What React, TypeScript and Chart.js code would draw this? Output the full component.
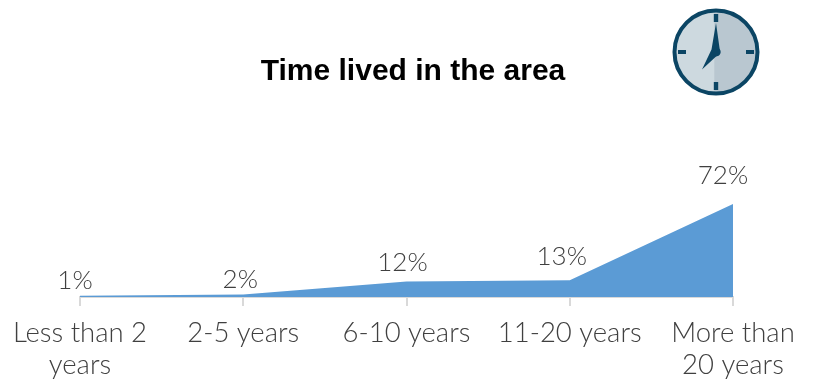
import React, { useEffect, useRef } from "react";
import { Chart, registerables, Plugin } from "chart.js";

Chart.register(...registerables);

const categories: (string | string[])[] = [
  ["Less than 2", "years"],
  "2-5 years",
  "6-10 years",
  "11-20 years",
  ["More than", "20 years"],
];
const shares = [1, 2, 12, 13, 72];
const chartTitle = "Time lived in the area";

const TEXT = "#404040";
const LABEL_FONT = '300 26px Lato, "Open Sans", sans-serif';

// Nudges for the percentage labels, relative to each point.
const labelNudgeX = [-5, -3, -4, -8, -10];
const labelNudgeY = [-15, -15, -19, -24, -28];

const annotate: Plugin<"line"> = {
  id: "annotate",
  afterDatasetsDraw(chart) {
    const { ctx } = chart;
    const points = chart.getDatasetMeta(0).data;
    ctx.save();
    ctx.textAlign = "center";
    ctx.textBaseline = "middle";
    ctx.fillStyle = TEXT;
    ctx.font = LABEL_FONT;
    points.forEach((p, i) => {
      ctx.fillText(`${shares[i]}%`, p.x + labelNudgeX[i], p.y + labelNudgeY[i]);
    });
    ctx.fillStyle = "#000000";
    ctx.font = 'bold 30px "Liberation Sans", Arial, sans-serif';
    ctx.fillText(chartTitle, 413, 72);
    ctx.restore();
  },
};

function ClockIcon() {
  return (
    <svg
      width="92"
      height="92"
      viewBox="-46 -46 92 92"
      style={{ position: "absolute", left: 670, top: 6 }}
    >
      <circle r="41.5" fill="#cdd9df" />
      <path d="M -1.7 -41.5 A 41.5 41.5 0 0 1 -1.7 41.5 Z" fill="#b9c7d0" />
      <circle r="41.5" fill="none" stroke="#0b4564" strokeWidth="4" />
      <g fill="#0b4564">
        <rect x="-2.2" y="-38" width="4.4" height="8" />
        <rect x="-2.2" y="30" width="4.4" height="8" />
        <rect x="-38" y="-2" width="8" height="4" />
        <rect x="30" y="-2" width="8" height="4" />
        <path d="M 0 -29 L 3.8 -2 L 3.8 2 L -0.5 5 L -14 17.5 L -4.5 -2.5 Z" />
        <circle cx="0.5" cy="0" r="4.2" />
      </g>
    </svg>
  );
}

export default function App() {
  const canvasRef = useRef<HTMLCanvasElement>(null);

  useEffect(() => {
    const chart = new Chart(canvasRef.current!, {
      type: "line",
      data: {
        labels: categories,
        datasets: [
          {
            data: shares,
            fill: "origin",
            backgroundColor: "#5b9bd5",
            borderWidth: 0,
            pointRadius: 0,
            tension: 0,
          },
        ],
      },
      options: {
        responsive: false,
        animation: false,
        layout: {
          autoPadding: false,
          padding: { left: 80, right: 83, top: 204 - 93 * (8 / 72), bottom: 0 },
        },
        plugins: {
          legend: { display: false },
          title: { display: false },
          tooltip: { enabled: false },
        },
        scales: {
          x: {
            offset: false,
            afterFit(scale) {
              scale.height = 85;
            },
            grid: {
              drawOnChartArea: false,
              drawTicks: true,
              tickLength: 9,
              color: "#d9d9d9",
              lineWidth: 2,
            },
            border: { color: "#d9d9d9", width: 2 },
            ticks: {
              autoSkip: false,
              maxRotation: 0,
              minRotation: 0,
              padding: 11,
              color: TEXT,
              font: { family: 'Lato, "Open Sans", sans-serif', weight: "300", size: 27.5, lineHeight: 1.17 },
            },
          },
          y: { display: false, min: 0, max: 80 },
        },
      },
      plugins: [annotate],
    });
    return () => chart.destroy();
  }, []);

  return (
    <div style={{ position: "fixed", left: 0, top: 0, width: 816, height: 382, background: "#fff" }}>
      <canvas ref={canvasRef} width={816} height={382} style={{ display: "block" }} />
      <ClockIcon />
    </div>
  );
}
